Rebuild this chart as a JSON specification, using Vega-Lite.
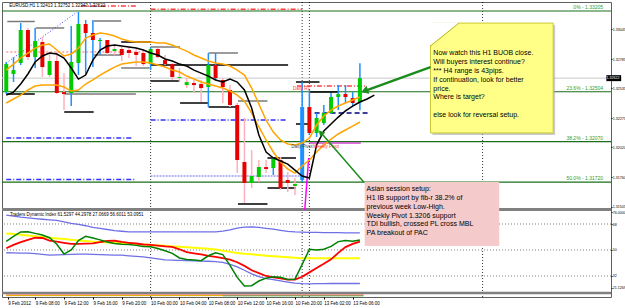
{
"$schema":"https://vega.github.io/schema/vega-lite/v6.json",
"width":609,"height":295,
"autosize":{"type":"none"},
"padding":{"left":2,"top":2,"right":14,"bottom":11},
"background":"white",
"config":{"font":"Liberation Sans","view":{"stroke":"#606060","strokeWidth":1}},
"datasets":{
"candles":[
{"i":-20,"o":1.32501,"h":1.32762,"l":1.32484,"c":1.32744,"k":"bull","w":"blue"},
{"i":-19,"o":1.32658,"h":1.32805,"l":1.32588,"c":1.32692,"k":"bull","w":"blue"},
{"i":-18,"o":1.32753,"h":1.33100,"l":1.32736,"c":1.33040,"k":"bull","w":"blue"},
{"i":-17,"o":1.33040,"h":1.33057,"l":1.32779,"c":1.32805,"k":"bear","w":"pink"},
{"i":-16,"o":1.32805,"h":1.33057,"l":1.32710,"c":1.32944,"k":"bull","w":"blue"},
{"i":-15,"o":1.32935,"h":1.32979,"l":1.32632,"c":1.32718,"k":"bear","w":"pink"},
{"i":-14,"o":1.32649,"h":1.32849,"l":1.32632,"c":1.32771,"k":"bull","w":"pink"},
{"i":-13,"o":1.32771,"h":1.32849,"l":1.32484,"c":1.32493,"k":"bear","w":"pink"},
{"i":-12,"o":1.32501,"h":1.32666,"l":1.32345,"c":1.32484,"k":"bear","w":"pink"},
{"i":-11,"o":1.32493,"h":1.33074,"l":1.32380,"c":1.32762,"k":"bull","w":"blue"},
{"i":-10,"o":1.32753,"h":1.33196,"l":1.32649,"c":1.33092,"k":"bull","w":"blue"},
{"i":-9,"o":1.33092,"h":1.33126,"l":1.32658,"c":1.33014,"k":"bear","w":"blue"},
{"i":-8,"o":1.33014,"h":1.33126,"l":1.32718,"c":1.32953,"k":"bear","w":"blue"},
{"i":-7,"o":1.32944,"h":1.32970,"l":1.32823,"c":1.32953,"k":"bull","w":"blue"},
{"i":-6,"o":1.32953,"h":1.32953,"l":1.32823,"c":1.32840,"k":"bear","w":"pink"},
{"i":-5,"o":1.32857,"h":1.32909,"l":1.32823,"c":1.32875,"k":"bull","w":"pink"},
{"i":-4,"o":1.32875,"h":1.32892,"l":1.32771,"c":1.32823,"k":"bear","w":"pink"},
{"i":-3,"o":1.32866,"h":1.32892,"l":1.32797,"c":1.32840,"k":"bear","w":"pink"},
{"i":-2,"o":1.32849,"h":1.32883,"l":1.32727,"c":1.32823,"k":"bear","w":"pink"},
{"i":-1,"o":1.32840,"h":1.32866,"l":1.32727,"c":1.32744,"k":"bear","w":"pink"},
{"i":0,"o":1.32744,"h":1.32892,"l":1.32692,"c":1.32875,"k":"bull","w":"blue"},
{"i":1,"o":1.32875,"h":1.32883,"l":1.32797,"c":1.32805,"k":"bear","w":"pink"},
{"i":2,"o":1.32779,"h":1.32823,"l":1.32736,"c":1.32744,"k":"bear","w":"pink"},
{"i":3,"o":1.32744,"h":1.32753,"l":1.32606,"c":1.32632,"k":"bear","w":"pink"},
{"i":4,"o":1.32623,"h":1.32710,"l":1.32588,"c":1.32632,"k":"bull","w":"pink"},
{"i":5,"o":1.32562,"h":1.32623,"l":1.32536,"c":1.32588,"k":"bull","w":"pink"},
{"i":6,"o":1.32580,"h":1.32606,"l":1.32493,"c":1.32562,"k":"bear","w":"pink"},
{"i":7,"o":1.32571,"h":1.32606,"l":1.32415,"c":1.32536,"k":"bear","w":"pink"},
{"i":8,"o":1.32545,"h":1.32840,"l":1.32371,"c":1.32736,"k":"bull","w":"blue"},
{"i":9,"o":1.32736,"h":1.32840,"l":1.32606,"c":1.32623,"k":"bear","w":"blue"},
{"i":10,"o":1.32606,"h":1.32623,"l":1.32406,"c":1.32545,"k":"bear","w":"pink"},
{"i":11,"o":1.32519,"h":1.32562,"l":1.32371,"c":1.32389,"k":"bear","w":"pink"},
{"i":12,"o":1.32389,"h":1.32406,"l":1.31798,"c":1.31911,"k":"bear","w":"pink"},
{"i":13,"o":1.31894,"h":1.32276,"l":1.31538,"c":1.31712,"k":"bear","w":"pink"},
{"i":14,"o":1.31712,"h":1.31998,"l":1.31668,"c":1.31772,"k":"bull","w":"pink"},
{"i":15,"o":1.31764,"h":1.31911,"l":1.31720,"c":1.31850,"k":"bull","w":"pink"},
{"i":16,"o":1.31850,"h":1.31911,"l":1.31798,"c":1.31833,"k":"bear","w":"pink"},
{"i":17,"o":1.31842,"h":1.31929,"l":1.31781,"c":1.31920,"k":"bull","w":"blue"},
{"i":18,"o":1.31911,"h":1.31937,"l":1.31651,"c":1.31668,"k":"bear","w":"pink"},
{"i":19,"o":1.31738,"h":1.31807,"l":1.31633,"c":1.31712,"k":"bear","w":"pink"},
{"i":20,"o":1.31686,"h":1.31755,"l":1.31607,"c":1.31703,"k":"bull","w":"pink"},
{"i":21,"o":1.31738,"h":1.32588,"l":1.31720,"c":1.32371,"k":"blue","w":"blue"},
{"i":22,"o":1.32371,"h":1.32519,"l":1.32128,"c":1.32146,"k":"bear","w":"blue"},
{"i":23,"o":1.32146,"h":1.32319,"l":1.32111,"c":1.32276,"k":"bull","w":"blue"},
{"i":24,"o":1.32232,"h":1.32389,"l":1.32215,"c":1.32319,"k":"bull","w":"blue"},
{"i":25,"o":1.32319,"h":1.32493,"l":1.32310,"c":1.32458,"k":"bull","w":"blue"},
{"i":26,"o":1.32458,"h":1.32562,"l":1.32345,"c":1.32484,"k":"bull","w":"blue"},
{"i":27,"o":1.32484,"h":1.32562,"l":1.32406,"c":1.32458,"k":"bear","w":"blue"},
{"i":28,"o":1.32449,"h":1.32501,"l":1.32380,"c":1.32406,"k":"bear","w":"blue"},
{"i":29,"o":1.32413,"h":1.32752,"l":1.32343,"c":1.32622,"k":"bull","w":"blue"}
],
"ma":[
{"i":-20,"b":1.32475,"u":1.32692,"lo":1.32406},
{"i":-19,"b":1.32501,"u":1.32744,"lo":1.32441},
{"i":-18,"b":1.32571,"u":1.32797,"lo":1.32475},
{"i":-17,"b":1.32658,"u":1.32840,"lo":1.32519},
{"i":-16,"b":1.32762,"u":1.32883,"lo":1.32554},
{"i":-15,"b":1.32814,"u":1.32909,"lo":1.32562},
{"i":-14,"b":1.32840,"u":1.32918,"lo":1.32562},
{"i":-13,"b":1.32831,"u":1.32866,"lo":1.32562},
{"i":-12,"b":1.32797,"u":1.32814,"lo":1.32545},
{"i":-11,"b":1.32710,"u":1.32831,"lo":1.32510},
{"i":-10,"b":1.32614,"u":1.32883,"lo":1.32519},
{"i":-9,"b":1.32649,"u":1.32970,"lo":1.32571},
{"i":-8,"b":1.32779,"u":1.32996,"lo":1.32606},
{"i":-7,"b":1.32866,"u":1.33014,"lo":1.32649},
{"i":-6,"b":1.32901,"u":1.33005,"lo":1.32684},
{"i":-5,"b":1.32909,"u":1.32988,"lo":1.32718},
{"i":-4,"b":1.32901,"u":1.32961,"lo":1.32744},
{"i":-3,"b":1.32892,"u":1.32944,"lo":1.32753},
{"i":-2,"b":1.32883,"u":1.32935,"lo":1.32762},
{"i":-1,"b":1.32866,"u":1.32935,"lo":1.32762},
{"i":0,"b":1.32840,"u":1.32935,"lo":1.32753},
{"i":1,"b":1.32823,"u":1.32927,"lo":1.32736},
{"i":2,"b":1.32788,"u":1.32927,"lo":1.32718},
{"i":3,"b":1.32771,"u":1.32909,"lo":1.32692},
{"i":4,"b":1.32744,"u":1.32883,"lo":1.32675},
{"i":5,"b":1.32727,"u":1.32857,"lo":1.32640},
{"i":6,"b":1.32692,"u":1.32823,"lo":1.32614},
{"i":7,"b":1.32666,"u":1.32797,"lo":1.32588},
{"i":8,"b":1.32640,"u":1.32771,"lo":1.32571},
{"i":9,"b":1.32606,"u":1.32753,"lo":1.32554},
{"i":10,"b":1.32588,"u":1.32744,"lo":1.32536},
{"i":11,"b":1.32614,"u":1.32727,"lo":1.32510},
{"i":12,"b":1.32588,"u":1.32692,"lo":1.32475},
{"i":13,"b":1.32519,"u":1.32649,"lo":1.32423},
{"i":14,"b":1.32363,"u":1.32536,"lo":1.32319},
{"i":15,"b":1.32128,"u":1.32397,"lo":1.32198},
{"i":16,"b":1.31981,"u":1.32258,"lo":1.32085},
{"i":17,"b":1.31929,"u":1.32154,"lo":1.31981},
{"i":18,"b":1.31903,"u":1.32085,"lo":1.31894},
{"i":19,"b":1.31876,"u":1.32050,"lo":1.31833},
{"i":20,"b":1.31824,"u":1.32041,"lo":1.31798},
{"i":21,"b":1.31772,"u":1.32059,"lo":1.31859},
{"i":22,"b":1.31755,"u":1.32102,"lo":1.31911},
{"i":23,"b":1.32041,"u":1.32215,"lo":1.31981},
{"i":24,"b":1.32163,"u":1.32293,"lo":1.32041},
{"i":25,"b":1.32224,"u":1.32345,"lo":1.32093},
{"i":26,"b":1.32284,"u":1.32380,"lo":1.32137},
{"i":27,"b":1.32337,"u":1.32406,"lo":1.32172},
{"i":28,"b":1.32380,"u":1.32432,"lo":1.32206},
{"i":29,"b":1.32415,"u":1.32458,"lo":1.32241},
{"i":30,"b":1.32441,"u":null,"lo":null},
{"i":31,"b":1.32475,"u":null,"lo":null}
],
"tdi":[
{"i":-20,"up":74.2,"dn":48.1,"ye":61.5,"rd":51.2,"gr":56},
{"i":-19,"up":73.4,"dn":48.0,"ye":61.0,"rd":53.5,"gr":59.5},
{"i":-18,"up":72.7,"dn":47.9,"ye":60.5,"rd":55.5,"gr":62.5},
{"i":-17,"up":72.2,"dn":47.9,"ye":60.0,"rd":57.0,"gr":62.7},
{"i":-16,"up":71.7,"dn":47.5,"ye":59.6,"rd":58.5,"gr":61.5},
{"i":-15,"up":71.3,"dn":47.0,"ye":59.0,"rd":58.3,"gr":60.4},
{"i":-14,"up":70.9,"dn":46.5,"ye":58.5,"rd":56.5,"gr":58.5},
{"i":-13,"up":70.5,"dn":46.6,"ye":58.0,"rd":55.8,"gr":54.0},
{"i":-12,"up":69.5,"dn":46.8,"ye":57.6,"rd":55.0,"gr":47.2},
{"i":-11,"up":68.5,"dn":47.0,"ye":57.1,"rd":54.3,"gr":50.0},
{"i":-10,"up":67.8,"dn":47.2,"ye":56.6,"rd":54.2,"gr":56.5},
{"i":-9,"up":66.8,"dn":47.2,"ye":56.2,"rd":54.4,"gr":59.5},
{"i":-8,"up":65.6,"dn":47.0,"ye":55.8,"rd":54.6,"gr":58.3},
{"i":-7,"up":65.0,"dn":46.8,"ye":55.5,"rd":55.4,"gr":57.0},
{"i":-6,"up":64.2,"dn":46.6,"ye":55.2,"rd":56.3,"gr":55.5},
{"i":-5,"up":63.4,"dn":46.5,"ye":55.0,"rd":56.4,"gr":54.5},
{"i":-4,"up":63.0,"dn":46.4,"ye":54.8,"rd":55.6,"gr":54.0},
{"i":-3,"up":62.6,"dn":46.0,"ye":54.5,"rd":55.0,"gr":53.8},
{"i":-2,"up":62.5,"dn":45.6,"ye":54.2,"rd":54.5,"gr":53.2},
{"i":-1,"up":62.5,"dn":45.2,"ye":53.8,"rd":53.8,"gr":52.5},
{"i":0,"up":62.5,"dn":44.6,"ye":53.5,"rd":53.5,"gr":52.3},
{"i":1,"up":62.5,"dn":43.8,"ye":53.2,"rd":53.0,"gr":51.0},
{"i":2,"up":62.5,"dn":43.1,"ye":52.9,"rd":52.5,"gr":49.5},
{"i":3,"up":62.5,"dn":43.0,"ye":52.5,"rd":52.2,"gr":47.7},
{"i":4,"up":62.5,"dn":42.8,"ye":52.2,"rd":50.5,"gr":44.5},
{"i":5,"up":62.5,"dn":42.6,"ye":51.9,"rd":48.5,"gr":43.5},
{"i":6,"up":62.5,"dn":42.4,"ye":51.5,"rd":47.7,"gr":43.0},
{"i":7,"up":62.5,"dn":42.3,"ye":51.2,"rd":47.0,"gr":42.6},
{"i":8,"up":62.5,"dn":42.2,"ye":50.8,"rd":46.0,"gr":46.0},
{"i":9,"up":62.5,"dn":42.0,"ye":50.3,"rd":45.2,"gr":48.0},
{"i":10,"up":63.0,"dn":41.5,"ye":49.5,"rd":44.3,"gr":46.8},
{"i":11,"up":64.0,"dn":40.0,"ye":48.7,"rd":43.3,"gr":39.4},
{"i":12,"up":65.2,"dn":38.3,"ye":48.0,"rd":41.5,"gr":31.0},
{"i":13,"up":65.8,"dn":36.0,"ye":47.4,"rd":39.0,"gr":25.1},
{"i":14,"up":66.0,"dn":33.5,"ye":47.0,"rd":36.0,"gr":25.3},
{"i":15,"up":65.6,"dn":31.5,"ye":46.5,"rd":34.0,"gr":28.5},
{"i":16,"up":65.0,"dn":30.2,"ye":46.0,"rd":32.0,"gr":30.5},
{"i":17,"up":64.4,"dn":29.5,"ye":45.6,"rd":31.0,"gr":31.5},
{"i":18,"up":63.6,"dn":28.6,"ye":45.3,"rd":30.3,"gr":31.1},
{"i":19,"up":62.9,"dn":27.8,"ye":45.0,"rd":29.5,"gr":29.6},
{"i":20,"up":62.5,"dn":27.1,"ye":44.6,"rd":29.5,"gr":29.8},
{"i":21,"up":62.4,"dn":26.7,"ye":44.2,"rd":31.5,"gr":40.0},
{"i":22,"up":62.2,"dn":26.5,"ye":44.2,"rd":34.5,"gr":50.5},
{"i":23,"up":62.2,"dn":26.7,"ye":44.2,"rd":37.5,"gr":50.0},
{"i":24,"up":62.1,"dn":26.7,"ye":44.2,"rd":40.5,"gr":50.5},
{"i":25,"up":62.0,"dn":26.8,"ye":44.2,"rd":43.5,"gr":52.5},
{"i":26,"up":62.0,"dn":26.8,"ye":44.2,"rd":48.0,"gr":55.8},
{"i":27,"up":61.9,"dn":26.8,"ye":44.2,"rd":52.0,"gr":56.5},
{"i":28,"up":61.8,"dn":26.8,"ye":44.2,"rd":54.2,"gr":56.0},
{"i":29,"up":61.8,"dn":26.8,"ye":44.2,"rd":55.8,"gr":56.9}
],
"levels":[
{"a":-19.86,"b":-16.05,"p":1.33113,"s":"gry"},
{"a":-15.92,"b":-11.97,"p":1.33057,"s":"gry"},
{"a":-7.89,"b":-4.08,"p":1.33118,"s":"gry"},
{"a":-20,"b":-16.05,"p":1.32484,"s":"blk"},
{"a":-11.97,"b":-2.04,"p":1.32484,"s":"gry"},
{"a":-11.97,"b":-7.89,"p":1.32328,"s":"blk"},
{"a":-7.89,"b":-4.08,"p":1.32823,"s":"gry"},
{"a":-4.08,"b":0,"p":1.32935,"s":"blk"},
{"a":0,"b":4.08,"p":1.32892,"s":"gry"},
{"a":-4.08,"b":-0.14,"p":1.32710,"s":"gry"},
{"a":0,"b":19.05,"p":1.32736,"s":"blk"},
{"a":0,"b":4.08,"p":1.32597,"s":"blk"},
{"a":8.03,"b":12.1,"p":1.32840,"s":"gry"},
{"a":4.08,"b":8.03,"p":1.32406,"s":"blk"},
{"a":8.03,"b":12.1,"p":1.32371,"s":"blk"},
{"a":12.1,"b":16.19,"p":1.32423,"s":"gry"},
{"a":12.1,"b":16.19,"p":1.31529,"s":"blk"},
{"a":16.19,"b":20.14,"p":1.31929,"s":"blk"},
{"a":16.19,"b":20.14,"p":1.31668,"s":"blk"},
{"a":20.14,"b":23.4,"p":1.32588,"s":"blk"},
{"a":20.14,"b":22.04,"p":1.32224,"s":"blk"},
{"a":22.04,"b":26.12,"p":1.32501,"s":"blk"},
{"a":-9.66,"b":-2.04,"p":1.33248,"s":"rdd"},
{"a":0,"b":21,"p":1.3322,"s":"rdd"},
{"a":-20,"b":-1,"p":1.32849,"s":"pdt"},
{"a":-20,"b":-2.45,"p":1.32102,"s":"bdd"},
{"a":0,"b":18.9,"p":1.32258,"s":"bdd"},
{"a":-20,"b":-2.04,"p":1.31742,"s":"bdd"},
{"a":0,"b":20.7,"p":1.31772,"s":"lav"},
{"a":20.27,"b":29.93,"p":1.32554,"s":"rdd"},
{"a":22.72,"b":30.48,"p":1.32319,"s":"nav"},
{"a":22,"b":29.12,"p":1.3206,"s":"mag"}
],
"fib":[
{"p":1.33205,"t":"0% - 1.33205"},
{"p":1.32504,"t":"23.6% - 1.32504"},
{"p":1.3207,"t":"38.2% - 1.32070"},
{"p":1.3172,"t":"50.0% - 1.31720"}
],
"yellowText":[
{"p":1.32844,"t":"Now watch this H1 BUOB close."},
{"p":1.32766,"t":"Will buyers interest continue?"},
{"p":1.32688,"t":"*** H4 range is 43pips."},
{"p":1.32610,"t":"If continuation, look for better"},
{"p":1.32532,"t":"price."},
{"p":1.32454,"t":"Where is target?"},
{"p":1.32306,"t":"else look for reversal setup."}
],
"pinkText":[
{"p":1.31659,"t":"Asian session setup:"},
{"p":1.31581,"t":"H1 IB support by fib-r 38.2% of"},
{"p":1.31503,"t":"previous week Low-High."},
{"p":1.31428,"t":"Weekly Pivot 1.3206 support"},
{"p":1.31353,"t":"TDI bullish, crossed PL cross MBL"},
{"p":1.31278,"t":"PA breakout of PAC"}
]
},
"resolve":{"scale":{"y":"independent","color":"independent","strokeWidth":"independent","strokeDash":"independent"},"axis":{"y":"independent"}},
"layer":[
{"resolve":{"scale":{"color":"independent"}},
 "layer":[
{"data":{"values":[{"i":0},{"i":21},{"i":22},{"i":46}]},
 "mark":{"type":"rule","color":"#000000","strokeDash":[1,2],"strokeWidth":0.8},
 "encoding":{"x":{"field":"i","type":"quantitative","scale":{"domain":[-19.9,63.1],"nice":false,"zero":false},
   "axis":{"orient":"bottom","values":[-19.8,-16,-12,-8,-4,0,4,8,12,16,20,24,28],
   "labelExpr":"['9 Feb 2012','9 Feb 08:00','9 Feb 12:00','9 Feb 16:00','9 Feb 20:00','10 Feb 00:00','10 Feb 04:00','10 Feb 08:00','10 Feb 12:00','10 Feb 16:00','10 Feb 20:00','13 Feb 02:00','13 Feb 06:00'][round((datum.value+20)/4)]",
   "labelAlign":"left","labelFontSize":4.5,"labelColor":"#000000","tickSize":2,"tickColor":"#000000","domain":false,"grid":false,"title":null,"labelPadding":1.5,"labelOverlap":false,"labelFlush":false,"labelBound":false}}}},
{"data":{"name":"fib"},
 "mark":{"type":"rule","color":"#1B6E1B","strokeWidth":1.2},
 "encoding":{"y":{"field":"p","type":"quantitative","scale":{"domain":[1.30722,1.33283],"nice":false,"zero":false},
   "axis":{"orient":"right","values":[1.3317,1.33045,1.32915,1.32785,1.32655,1.32535,1.32405,1.32275,1.32145,1.3202,1.3189,1.3176,1.31635,1.31505],
   "format":".5f","labelFontSize":3.6,"labelColor":"#000000","tickSize":1,"tickColor":"#000000","domain":false,"grid":false,"title":null,"labelPadding":0.3,"labelOverlap":false,"labelBound":false,"labelFlush":false}}}},
{"data":{"values":[{"p":1.32622}]},
 "mark":{"type":"rule","color":"#C8C8C8","strokeWidth":1},
 "encoding":{"y":{"field":"p","type":"quantitative","scale":{"domain":[1.30722,1.33283],"nice":false,"zero":false},"title":null}}},
{"data":{"values":[{"p":1.31482}]},
 "mark":{"type":"rule","color":"#808080","strokeWidth":3},
 "encoding":{"y":{"field":"p","type":"quantitative","scale":{"domain":[1.30722,1.33283],"nice":false,"zero":false},"title":null}}},
{"data":{"name":"levels"},
 "mark":{"type":"rule"},
 "encoding":{
  "x":{"field":"a","type":"quantitative","scale":{"domain":[-19.9,63.1],"nice":false,"zero":false},"title":null},
  "x2":{"field":"b"},
  "y":{"field":"p","type":"quantitative","scale":{"domain":[1.30722,1.33283],"nice":false,"zero":false},"title":null},
  "color":{"field":"s","type":"nominal","legend":null,"scale":{"domain":["blk","gry","bdd","lav","rdd","pdt","nav","mag"],"range":["#000000","#7A7A7A","#3030FF","#9C9CF0","#FF4040","#FF9999","#000080","#CC44CC"]}},
  "strokeDash":{"field":"s","type":"nominal","legend":null,"scale":{"domain":["blk","gry","bdd","lav","rdd","pdt","nav","mag"],"range":[[1,0],[1,0],[5,2,1,2],[2,1],[5,2,1,2],[2,2],[5,3],[1,0]]}},
  "strokeWidth":{"field":"s","type":"nominal","legend":null,"scale":{"domain":["blk","gry","bdd","lav","rdd","pdt","nav","mag"],"range":[1.5,1.5,1,1,1,1,2.5,2]}}}},
{"data":{"values":[{"i":-20,"p":1.32753},{"i":-10.2,"p":1.33196}]},
 "mark":{"type":"line","color":"#4040FF","strokeDash":[1,2],"strokeWidth":1},
 "encoding":{"x":{"field":"i","type":"quantitative","scale":{"domain":[-19.9,63.1],"nice":false,"zero":false},"title":null},
  "y":{"field":"p","type":"quantitative","scale":{"domain":[1.30722,1.33283],"nice":false,"zero":false},"title":null}}},
{"data":{"values":[{"i":21.36,"p":1.31477},{"i":21.9,"p":1.31929}]},
 "mark":{"type":"line","color":"#FF00FF","strokeWidth":1.5},
 "encoding":{"x":{"field":"i","type":"quantitative","scale":{"domain":[-19.9,63.1],"nice":false,"zero":false},"title":null},
  "y":{"field":"p","type":"quantitative","scale":{"domain":[1.30722,1.33283],"nice":false,"zero":false},"title":null}}},
{"data":{"name":"candles"},
 "mark":{"type":"rule","strokeWidth":1.5},
 "encoding":{"x":{"field":"i","type":"quantitative","scale":{"domain":[-19.9,63.1],"nice":false,"zero":false},"title":null},
  "y":{"field":"l","type":"quantitative","scale":{"domain":[1.30722,1.33283],"nice":false,"zero":false},"title":null},
  "y2":{"field":"h"},
  "color":{"field":"w","type":"nominal","legend":null,"scale":{"domain":["blue","pink"],"range":["#1E90FF","#FFB0BC"]}}}},
{"data":{"name":"candles"},
 "mark":{"type":"bar","size":4},
 "encoding":{"x":{"field":"i","type":"quantitative","scale":{"domain":[-19.9,63.1],"nice":false,"zero":false},"title":null},
  "y":{"field":"o","type":"quantitative","scale":{"domain":[1.30722,1.33283],"nice":false,"zero":false},"title":null},
  "y2":{"field":"c"},
  "color":{"field":"k","type":"nominal","legend":null,"scale":{"domain":["bull","bear","blue"],"range":["#00CC00","#E80000","#1E90FF"]}}}},
{"data":{"name":"ma"},
 "mark":{"type":"line","color":"#FFA500","strokeWidth":1.5},
 "encoding":{"x":{"field":"i","type":"quantitative","scale":{"domain":[-19.9,63.1],"nice":false,"zero":false},"title":null},
  "y":{"field":"u","type":"quantitative","scale":{"domain":[1.30722,1.33283],"nice":false,"zero":false},"title":null}}},
{"data":{"name":"ma"},
 "mark":{"type":"line","color":"#FFA500","strokeWidth":1.5},
 "encoding":{"x":{"field":"i","type":"quantitative","scale":{"domain":[-19.9,63.1],"nice":false,"zero":false},"title":null},
  "y":{"field":"lo","type":"quantitative","scale":{"domain":[1.30722,1.33283],"nice":false,"zero":false},"title":null}}},
{"data":{"name":"ma"},
 "mark":{"type":"line","color":"#000000","strokeWidth":1.5},
 "encoding":{"x":{"field":"i","type":"quantitative","scale":{"domain":[-19.9,63.1],"nice":false,"zero":false},"title":null},
  "y":{"field":"b","type":"quantitative","scale":{"domain":[1.30722,1.33283],"nice":false,"zero":false},"title":null}}},
{"data":{"name":"fib"},
 "mark":{"type":"text","align":"right","baseline":"bottom","dy":-1,"fontSize":5,"color":"#2E9E2E"},
 "encoding":{"x":{"datum":62.7,"type":"quantitative","scale":{"domain":[-19.9,63.1],"nice":false,"zero":false},"title":null},
  "y":{"field":"p","type":"quantitative","scale":{"domain":[1.30722,1.33283],"nice":false,"zero":false},"title":null},
  "text":{"field":"t"}}},
{"data":{"values":[{"i":19.73,"p":1.32527,"t":"Daily R1","k":"r"},{"i":19.5,"p":1.32024,"t":"Daily Pivot","k":"d"},{"i":22.5,"p":1.32024,"t":"Weekly Pivot","k":"r"}]},
 "mark":{"type":"text","align":"left","baseline":"middle","fontSize":4.5},
 "encoding":{"x":{"field":"i","type":"quantitative","scale":{"domain":[-19.9,63.1],"nice":false,"zero":false},"title":null},
  "y":{"field":"p","type":"quantitative","scale":{"domain":[1.30722,1.33283],"nice":false,"zero":false},"title":null},
  "text":{"field":"t"},
  "color":{"field":"k","type":"nominal","legend":null,"scale":{"domain":["r","d"],"range":["#FF3030","#404040"]}}}},
{"data":{"values":[{"t":"EURUSD,H1  1.32413 1.32752 1.32343 1.32622"}]},
 "mark":{"type":"text","align":"left","baseline":"middle","fontSize":4.5,"color":"#000000"},
 "encoding":{"x":{"datum":-19.6,"type":"quantitative","scale":{"domain":[-19.9,63.1],"nice":false,"zero":false},"title":null},
  "y":{"datum":1.33248,"type":"quantitative","scale":{"domain":[1.30722,1.33283],"nice":false,"zero":false},"title":null},
  "text":{"field":"t"}}},
{"data":{"values":[{"t":"1.32622"}]},
 "mark":{"type":"rect","color":"#000000"},
 "encoding":{"x":{"datum":63.15,"type":"quantitative","scale":{"domain":[-19.9,63.1],"nice":false,"zero":false},"title":null},
  "x2":{"datum":65.2},
  "y":{"datum":1.32648,"type":"quantitative","scale":{"domain":[1.30722,1.33283],"nice":false,"zero":false},"title":null},
  "y2":{"datum":1.32596}}},
{"data":{"values":[{"t":"1.32622"}]},
 "mark":{"type":"text","align":"left","baseline":"middle","fontSize":3.6,"color":"#FFFFFF"},
 "encoding":{"x":{"datum":63.17,"type":"quantitative","scale":{"domain":[-19.9,63.1],"nice":false,"zero":false},"title":null},
  "y":{"datum":1.32622,"type":"quantitative","scale":{"domain":[1.30722,1.33283],"nice":false,"zero":false},"title":null},
  "text":{"field":"t"}}}
]},
{"resolve":{"scale":{"color":"independent"}},
 "layer":[
{"data":{"values":[{"v":68},{"v":50},{"v":32}]},
 "mark":{"type":"rule","color":"#808080","strokeDash":[1,2],"strokeWidth":1},
 "encoding":{"y":{"field":"v","type":"quantitative","scale":{"domain":[17.45,221.75],"nice":false,"zero":false},
  "axis":{"orient":"right","values":[76.3,68,50,32,24],"labelExpr":"datum.value > 76 ? '76.0000' : datum.value < 25 ? '21.1269' : format(datum.value, 'd')",
  "labelFontSize":3.6,"labelColor":"#000000","tickSize":1,"tickColor":"#000000","domain":false,"grid":false,"title":null,"labelPadding":0.3,"labelOverlap":false,"labelBound":false,"labelFlush":false}}}},
{"data":{"values":[{"v":20.2}]},
 "mark":{"type":"rule","color":"#808080","strokeWidth":2.5},
 "encoding":{"y":{"field":"v","type":"quantitative","scale":{"domain":[17.45,221.75],"nice":false,"zero":false},"title":null}}},
{"data":{"values":[{"a":-20,"b":29.5,"v":18.7,"k":"r"},{"a":10,"b":29.5,"v":18.2,"k":"g"},{"a":-20,"b":10,"v":18.4,"k":"y"}]},
 "mark":{"type":"rule","strokeWidth":1},
 "encoding":{"x":{"field":"a","type":"quantitative","scale":{"domain":[-19.9,63.1],"nice":false,"zero":false},"title":null},
  "x2":{"field":"b"},
  "y":{"field":"v","type":"quantitative","scale":{"domain":[17.45,221.75],"nice":false,"zero":false},"title":null},
  "color":{"field":"k","type":"nominal","legend":null,"scale":{"domain":["r","g","y"],"range":["#FF0000","#66CC66","#E0C000"]}}}},
{"data":{"name":"tdi"},
 "mark":{"type":"line","color":"#6F6FE6","strokeWidth":1.3},
 "encoding":{"x":{"field":"i","type":"quantitative","scale":{"domain":[-19.9,63.1],"nice":false,"zero":false},"title":null},
  "y":{"field":"up","type":"quantitative","scale":{"domain":[17.45,221.75],"nice":false,"zero":false},"title":null}}},
{"data":{"name":"tdi"},
 "mark":{"type":"line","color":"#6F6FE6","strokeWidth":1.3},
 "encoding":{"x":{"field":"i","type":"quantitative","scale":{"domain":[-19.9,63.1],"nice":false,"zero":false},"title":null},
  "y":{"field":"dn","type":"quantitative","scale":{"domain":[17.45,221.75],"nice":false,"zero":false},"title":null}}},
{"data":{"name":"tdi"},
 "mark":{"type":"line","color":"#FFFF00","strokeWidth":2},
 "encoding":{"x":{"field":"i","type":"quantitative","scale":{"domain":[-19.9,63.1],"nice":false,"zero":false},"title":null},
  "y":{"field":"ye","type":"quantitative","scale":{"domain":[17.45,221.75],"nice":false,"zero":false},"title":null}}},
{"data":{"name":"tdi"},
 "mark":{"type":"line","color":"#FF0000","strokeWidth":1.8},
 "encoding":{"x":{"field":"i","type":"quantitative","scale":{"domain":[-19.9,63.1],"nice":false,"zero":false},"title":null},
  "y":{"field":"rd","type":"quantitative","scale":{"domain":[17.45,221.75],"nice":false,"zero":false},"title":null}}},
{"data":{"name":"tdi"},
 "mark":{"type":"line","color":"#008000","strokeWidth":1.5},
 "encoding":{"x":{"field":"i","type":"quantitative","scale":{"domain":[-19.9,63.1],"nice":false,"zero":false},"title":null},
  "y":{"field":"gr","type":"quantitative","scale":{"domain":[17.45,221.75],"nice":false,"zero":false},"title":null}}},
{"data":{"values":[{"t":"Traders Dynamic Index 61.5297 44.2978 27.0669 56.6011 53.0951"}]},
 "mark":{"type":"text","align":"left","baseline":"middle","fontSize":4.5,"color":"#000000"},
 "encoding":{"x":{"datum":-19.5,"type":"quantitative","scale":{"domain":[-19.9,63.1],"nice":false,"zero":false},"title":null},
  "y":{"datum":74.3,"type":"quantitative","scale":{"domain":[17.45,221.75],"nice":false,"zero":false},"title":null},
  "text":{"field":"t"}}}
]},
{"layer":[
{"data":{"values":[{"x1":39.05,"x2":56.05,"p1":1.33083,"p2":1.32129}]},
 "mark":{"type":"rect","color":"#A8A8A8","opacity":0.6},
 "encoding":{"x":{"field":"x1","type":"quantitative","scale":{"domain":[-19.9,63.1],"nice":false,"zero":false},"title":null},
  "x2":{"field":"x2"},
  "y":{"field":"p1","type":"quantitative","scale":{"domain":[1.30722,1.33283],"nice":false,"zero":false},"axis":null},
  "y2":{"field":"p2"}}},
{"data":{"values":[{"x1":38.78,"x2":55.78,"p1":1.331,"p2":1.32146}]},
 "mark":{"type":"rect","fill":"#FFFF88","stroke":"#C8C832","strokeWidth":1},
 "encoding":{"x":{"field":"x1","type":"quantitative","scale":{"domain":[-19.9,63.1],"nice":false,"zero":false},"title":null},
  "x2":{"field":"x2"},
  "y":{"field":"p1","type":"quantitative","scale":{"domain":[1.30722,1.33283],"nice":false,"zero":false},"axis":null},
  "y2":{"field":"p2"}}},
{"data":{"values":[{"i":38.6,"t":1.33108,"b":1.32901},{"i":42.72,"t":1.33108,"b":1.331}]},
 "mark":{"type":"area","color":"#FFFFFF","opacity":1},
 "encoding":{"x":{"field":"i","type":"quantitative","scale":{"domain":[-19.9,63.1],"nice":false,"zero":false},"title":null},
  "y":{"field":"t","type":"quantitative","scale":{"domain":[1.30722,1.33283],"nice":false,"zero":false},"axis":null},
  "y2":{"field":"b"}}},
{"data":{"values":[{"i":38.78,"p":1.32901},{"i":42.72,"p":1.331}]},
 "mark":{"type":"line","color":"#B4B428","strokeWidth":1},
 "encoding":{"x":{"field":"i","type":"quantitative","scale":{"domain":[-19.9,63.1],"nice":false,"zero":false},"title":null},
  "y":{"field":"p","type":"quantitative","scale":{"domain":[1.30722,1.33283],"nice":false,"zero":false},"axis":null}}},
{"data":{"name":"yellowText"},
 "mark":{"type":"text","align":"left","baseline":"middle","fontSize":7,"color":"#000000"},
 "encoding":{"x":{"datum":39.18,"type":"quantitative","scale":{"domain":[-19.9,63.1],"nice":false,"zero":false},"title":null},
  "y":{"field":"p","type":"quantitative","scale":{"domain":[1.30722,1.33283],"nice":false,"zero":false},"axis":null},
  "text":{"field":"t"}}},
{"data":{"values":[{"x1":29.66,"x2":48.3,"p1":1.3172,"p2":1.31165}]},
 "mark":{"type":"rect","fill":"#F4CACA"},
 "encoding":{"x":{"field":"x1","type":"quantitative","scale":{"domain":[-19.9,63.1],"nice":false,"zero":false},"title":null},
  "x2":{"field":"x2"},
  "y":{"field":"p1","type":"quantitative","scale":{"domain":[1.30722,1.33283],"nice":false,"zero":false},"axis":null},
  "y2":{"field":"p2"}}},
{"data":{"name":"pinkText"},
 "mark":{"type":"text","align":"left","baseline":"middle","fontSize":7,"color":"#000000"},
 "encoding":{"x":{"datum":29.93,"type":"quantitative","scale":{"domain":[-19.9,63.1],"nice":false,"zero":false},"title":null},
  "y":{"field":"p","type":"quantitative","scale":{"domain":[1.30722,1.33283],"nice":false,"zero":false},"axis":null},
  "text":{"field":"t"}}},
{"data":{"values":[{"g":"a1","i":38.78,"p":1.32718},{"g":"a1","i":29.8,"p":1.32514},{"g":"a2","i":29.52,"p":1.3172},{"g":"a2","i":23.67,"p":1.32143}]},
 "mark":{"type":"line","color":"#1C8C1C"},
 "encoding":{"x":{"field":"i","type":"quantitative","scale":{"domain":[-19.9,63.1],"nice":false,"zero":false},"title":null},
  "y":{"field":"p","type":"quantitative","scale":{"domain":[1.30722,1.33283],"nice":false,"zero":false},"axis":null},
  "detail":{"field":"g","type":"nominal"},
  "strokeWidth":{"field":"g","type":"nominal","legend":null,"scale":{"domain":["a1","a2"],"range":[2.5,1.5]}}}},
{"data":{"values":[{"i":29.8,"p":1.32514}]},
 "mark":{"type":"point","shape":"triangle","filled":true,"color":"#1C8C1C","opacity":1,"size":70,"angle":250},
 "encoding":{"x":{"field":"i","type":"quantitative","scale":{"domain":[-19.9,63.1],"nice":false,"zero":false},"title":null},
  "y":{"field":"p","type":"quantitative","scale":{"domain":[1.30722,1.33283],"nice":false,"zero":false},"axis":null}}},
{"data":{"values":[{"i":23.67,"p":1.32143}]},
 "mark":{"type":"point","shape":"triangle","filled":true,"color":"#1C8C1C","opacity":1,"size":45,"angle":318.6},
 "encoding":{"x":{"field":"i","type":"quantitative","scale":{"domain":[-19.9,63.1],"nice":false,"zero":false},"title":null},
  "y":{"field":"p","type":"quantitative","scale":{"domain":[1.30722,1.33283],"nice":false,"zero":false},"axis":null}}}
]}
]
}
